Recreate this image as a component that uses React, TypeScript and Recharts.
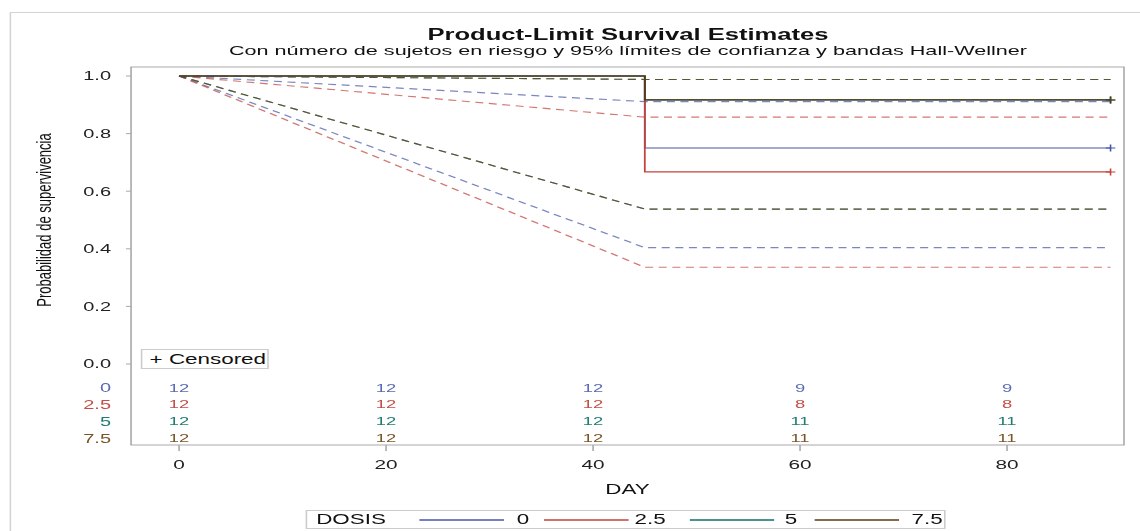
import React from 'react'
import {
  ComposedChart,
  Line,
  Scatter,
  XAxis,
  YAxis,
  ReferenceArea,
} from 'recharts'

// dosis groups
const DOSES = ['0', '2.5', '5', '7.5']
const LINE_COLORS = ['#4757a6', '#c0443b', '#0f6e63', '#5a3a12']
const TEXT_COLORS = ['#5a6ab4', '#c24f47', '#1d7d70', '#7a5527']

// product-limit estimates (day, survival)
const STEP_DAYS = [0, 45, 90]
const SURV_0 = [1, 0.75, 0.75]
const SURV_25 = [1, 0.667, 0.667]
const SURV_5 = [1, 0.917, 0.917]
const SURV_75 = [1, 0.917, 0.917]

// Hall-Wellner bands
const UPPER_0 = [1, 0.911, 0.911]
const LOWER_0 = [1, 0.404, 0.404]
const UPPER_25 = [1, 0.857, 0.857]
const LOWER_25 = [1, 0.336, 0.336]
const UPPER_5 = [1, 0.988, 0.988]
const LOWER_5 = [1, 0.538, 0.538]
const UPPER_75 = [1, 0.988, 0.988]
const LOWER_75 = [1, 0.538, 0.538]

// numbers at risk
const RISK_DAYS = [0, 20, 40, 60, 80]
const RISK_0 = [12, 12, 12, 9, 9]
const RISK_25 = [12, 12, 12, 8, 8]
const RISK_5 = [12, 12, 12, 11, 11]
const RISK_75 = [12, 12, 12, 11, 11]

const X_TICKS = [0, 20, 40, 60, 80]
const Y_TICKS = [0, 0.2, 0.4, 0.6, 0.8, 1.0]

const SURV = [SURV_0, SURV_25, SURV_5, SURV_75]
const UPPER = [UPPER_0, UPPER_25, UPPER_5, UPPER_75]
const LOWER = [LOWER_0, LOWER_25, LOWER_5, LOWER_75]
const RISK = [RISK_0, RISK_25, RISK_5, RISK_75]

// layout
const S = 1.6 // the original graph is stretched sideways
const W = 712
const H = 531
const X_MIN = -4.64
const X_MAX = 91.3
const Y_MIN = -0.28125
const Y_MAX = 1.03125
const ROW_Y = [-0.083, -0.139, -0.198, -0.257]
const LEG_LINE_X = [70.7, 148.8, 239.4, 317.5]
const LEG_TEXT_X = [131.3, 205, 298.8, 378.1]
const FONT = '"Liberation Sans", Arial, sans-serif'
const FRAME = '#a9a9a9'

const survData = SURV.map((vals) => STEP_DAYS.map((d, i) => ({ day: d, s: vals[i] })))
const bandData = UPPER.map((up, g) =>
  STEP_DAYS.map((d, i) => ({ day: d, u: up[i], l: LOWER[g][i] }))
)
const riskData = RISK.map((vals, g) =>
  RISK_DAYS.map((d, i) => ({ day: d, row: ROW_Y[g], n: vals[i] }))
)

function YTick(props: any) {
  const { x, y, payload } = props
  const r = ROW_Y.indexOf(payload.value)
  if (r >= 0) {
    return (
      <text x={x - 12.5} y={y + 4.5} textAnchor="end" fontSize={12.5} fontFamily={FONT} fill={TEXT_COLORS[r]}>
        {DOSES[r]}
      </text>
    )
  }
  return (
    <g>
      <line x1={x - 3.2} y1={y} x2={x} y2={y} stroke={FRAME} />
      <text x={x - 12.5} y={y + 4.5} textAnchor="end" fontSize={12.5} fontFamily={FONT} fill="#222">
        {Number(payload.value).toFixed(1)}
      </text>
    </g>
  )
}

function XTick(props: any) {
  const { x, y, payload } = props
  return (
    <g>
      <line x1={x} y1={y} x2={x} y2={y + 6} stroke={FRAME} />
      <text x={x} y={y + 24} textAnchor="middle" fontSize={13} fontFamily={FONT} fill="#222">
        {payload.value}
      </text>
    </g>
  )
}

function censorDot(color: string, last: number) {
  return (p: any) => {
    if (p.index !== last) return <g key={p.index} />
    return (
      <path
        key={p.index}
        d={`M${p.cx - 3},${p.cy}H${p.cx + 3}M${p.cx},${p.cy - 3.5}V${p.cy + 3.5}`}
        stroke={color}
        strokeWidth={1}
        fill="none"
      />
    )
  }
}

function riskLabel(g: number) {
  return (p: any) => (
    <text x={p.cx} y={p.cy + 4} textAnchor="middle" fontSize={11.5} fontFamily={FONT} fill={TEXT_COLORS[g]}>
      {p.payload.n}
    </text>
  )
}

export default function App() {
  return (
    <div style={{ position: 'fixed', left: 0, top: 0, width: 1140, height: 531, overflow: 'hidden', background: '#fff' }}>
      <div
        style={{
          position: 'absolute',
          left: 0,
          top: 0,
          width: W,
          height: H,
          transform: `scaleX(${S})`,
          transformOrigin: '0 0',
          fontFamily: FONT,
          color: '#111',
        }}
      >
        <div style={{ position: 'absolute', left: 6.25, top: 12, width: 800, height: 600, border: '1px solid #d4d4d4' }} />
        <div style={{ position: 'absolute', left: 0, top: 26.5, width: 785, textAlign: 'center', fontSize: 16, lineHeight: '16px', fontWeight: 'bold' }}>
          Product-Limit Survival Estimates
        </div>
        <div style={{ position: 'absolute', left: 0, top: 43.6, width: 785, textAlign: 'center', fontSize: 13.5, lineHeight: '13.5px' }}>
          Con número de sujetos en riesgo y 95% límites de confianza y bandas Hall-Wellner
        </div>
        <div
          style={{
            position: 'absolute',
            left: 28.1 - 150,
            top: 220 - 8,
            width: 300,
            height: 16,
            lineHeight: '16px',
            fontSize: 13,
            textAlign: 'center',
            transform: 'rotate(-90deg)',
          }}
        >
          Probabilidad de supervivencia
        </div>

        <div style={{ position: 'absolute', left: 0, top: 0 }}>
          <ComposedChart width={W} height={H} margin={{ top: 67, right: 9.5, bottom: 46, left: 0 }}>
            <XAxis
              type="number"
              dataKey="day"
              domain={[X_MIN, X_MAX]}
              ticks={X_TICKS}
              allowDataOverflow
              axisLine={false}
              tickLine={false}
              tickSize={0}
              tickMargin={0}
              height={40}
              interval={0}
              tick={<XTick />}
            />
            <YAxis
              type="number"
              domain={[Y_MIN, Y_MAX]}
              ticks={[...Y_TICKS, ...ROW_Y]}
              allowDataOverflow
              axisLine={false}
              tickLine={false}
              tickSize={0}
              tickMargin={0}
              width={81.9}
              interval={0}
              tick={<YTick />}
            />
            <ReferenceArea x1={X_MIN} x2={X_MAX} y1={Y_MIN} y2={Y_MAX} fill="none" stroke={FRAME} strokeWidth={1} />
            {bandData.map((d, g) => (
              <Line
                key={'u' + g}
                data={d}
                dataKey="u"
                type="linear"
                stroke={LINE_COLORS[g]}
                strokeOpacity={0.72}
                strokeWidth={1.15}
                strokeDasharray="5 3.5"
                dot={false}
                activeDot={false}
                isAnimationActive={false}
              />
            ))}
            {bandData.map((d, g) => (
              <Line
                key={'l' + g}
                data={d}
                dataKey="l"
                type="linear"
                stroke={LINE_COLORS[g]}
                strokeOpacity={0.72}
                strokeWidth={1.15}
                strokeDasharray="5 3.5"
                dot={false}
                activeDot={false}
                isAnimationActive={false}
              />
            ))}
            {survData.map((d, g) => (
              <Line
                key={'s' + g}
                data={d}
                dataKey="s"
                type="stepAfter"
                stroke={LINE_COLORS[g]}
                strokeWidth={1.1}
                dot={censorDot(LINE_COLORS[g], d.length - 1)}
                activeDot={false}
                isAnimationActive={false}
              />
            ))}
            {riskData.map((d, g) => (
              <Scatter key={'r' + g} data={d} dataKey="row" shape={riskLabel(g)} isAnimationActive={false} />
            ))}
          </ComposedChart>
        </div>

        <div style={{ position: 'absolute', left: 0, top: 481.6, width: 784.4, textAlign: 'center', fontSize: 14, lineHeight: '14px' }}>
          DAY
        </div>

        <div
          style={{
            position: 'absolute',
            left: 87.5,
            top: 349,
            width: 80,
            height: 20,
            boxSizing: 'border-box',
            border: '1px solid #cccccc',
            background: '#fff',
            fontSize: 14,
            lineHeight: '18px',
            paddingLeft: 5,
            whiteSpace: 'nowrap',
          }}
        >
          + Censored
        </div>

        <div
          style={{
            position: 'absolute',
            left: 190.6,
            top: 510,
            width: 400,
            height: 19,
            boxSizing: 'border-box',
            border: '1px solid #cccccc',
            fontSize: 14,
            lineHeight: '17px',
            whiteSpace: 'nowrap',
          }}
        >
          <span style={{ position: 'absolute', left: 6, top: 0 }}>DOSIS</span>
          {DOSES.map((d, g) => (
            <React.Fragment key={d}>
              <svg width={53} height={4} style={{ position: 'absolute', left: LEG_LINE_X[g], top: 6.5 }}>
                <line x1={0} y1={2} x2={53} y2={2} stroke={LINE_COLORS[g]} strokeWidth={1.3} />
              </svg>
              <span style={{ position: 'absolute', left: LEG_TEXT_X[g], top: 0 }}>{d}</span>
            </React.Fragment>
          ))}
        </div>
      </div>
    </div>
  )
}
